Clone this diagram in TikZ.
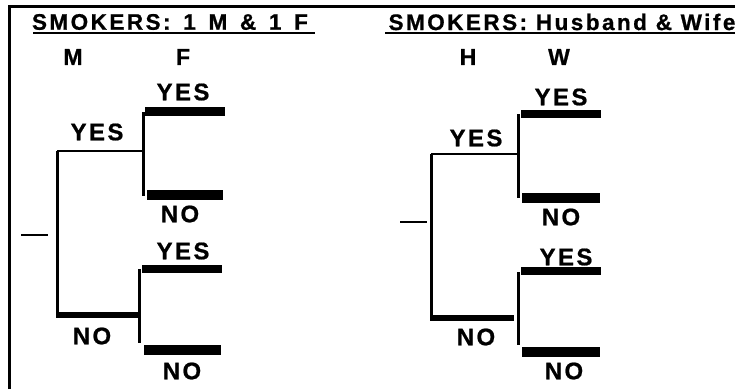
\documentclass[tikz,border=0pt]{standalone}
\usepackage{fontspec}
\newfontfamily\labfont[LetterSpace=10,FakeBold=0.8]{Liberation Sans Bold}
\newfontfamily\ttlfont[LetterSpace=11,FakeBold=0.8]{Liberation Sans Bold}
\newcommand\labsize{\fontsize{24pt}{24pt}\selectfont}
\newcommand\hdrsize{\fontsize{23pt}{23pt}\selectfont}
\newcommand\ttlsize{\fontsize{22.5pt}{22.5pt}\selectfont}
\newcommand\wsp{\hspace{4pt} }
\tikzset{
  lab/.style={font=\labfont\labsize, inner sep=0pt},
  hdr/.style={font=\labfont\hdrsize, inner sep=0pt},
  ttl/.style={font=\ttlfont\ttlsize, inner sep=0pt},
  thin/.style={line width=2.5pt},
  stem/.style={line width=3pt},
  nobranch/.style={line width=5.5pt},
  topbar/.style={line width=8.5pt},
  botbar/.style={line width=10.5pt},
  dash line/.style={line width=1.2pt},
  frame/.style={line width=3pt},
  uline/.style={line width=1.6pt}
}
\begin{document}
\begin{tikzpicture}[x=1pt,y=-1pt]
\useasboundingbox (0,0) rectangle (738,389);
% frame
\coordinate (fbl) at (9,389);
\coordinate (ftl) at (9,6);
\coordinate (ftr) at (735,6);
\draw[frame] (fbl) -- (ftl) -- (ftr);

% ===== left tree =====
\node[ttl] (t1) at (170,22) {SMOKERS:\wsp 1\wsp M\wsp \&\wsp 1\wsp F};
\coordinate (u1a) at (33,33); \coordinate (u1b) at (315,33);
\draw[uline] (u1a) -- (u1b);
\node[hdr] (hm) at (73,57) {M};
\node[hdr] (hf) at (183,57) {F};

\coordinate (m0) at (57,151);
\coordinate (m1) at (57,318);
\coordinate (my) at (143,151);
\coordinate (mn) at (138,315);
\coordinate (mn0) at (57,315);
\draw[stem] (m0) -- (m1);
\draw[thin] (m0) -- (my);
\draw[nobranch] (mn0) -- (mn);

\coordinate (fy0) at (143,112); \coordinate (fy1) at (143,196);
\draw[stem] (fy0) -- (fy1);
\coordinate (b1a) at (145,111.5); \coordinate (b1b) at (225,111.5);
\draw[topbar] (b1a) -- (b1b);
\coordinate (b2a) at (147,195); \coordinate (b2b) at (223,195);
\draw[botbar] (b2a) -- (b2b);

\coordinate (fn0) at (139,269); \coordinate (fn1) at (139,343);
\draw[stem] (fn0) -- (fn1);
\coordinate (b3a) at (142,269); \coordinate (b3b) at (222,269);
\draw[topbar] (b3a) -- (b3b);
\coordinate (b4a) at (144,350); \coordinate (b4b) at (221,350);
\draw[botbar] (b4a) -- (b4b);

\coordinate (d1a) at (21,235); \coordinate (d1b) at (48,235);
\draw[dash line] (d1a) -- (d1b);

\node[lab] (l1) at (183,92) {YES};
\node[lab] (l2) at (97,132) {YES};
\node[lab] (l3) at (180,214) {NO};
\node[lab] (l4) at (183,251) {YES};
\node[lab] (l5) at (92,336) {NO};
\node[lab] (l6) at (182,371) {NO};

% ===== right tree =====
\node[ttl] (t2) at (562,22) {SMOKERS: Husband \& Wife};
\coordinate (u2a) at (385,33); \coordinate (u2b) at (735,33);
\draw[uline] (u2a) -- (u2b);
\node[hdr] (hh) at (468,57) {H};
\node[hdr] (hw) at (559,57) {W};

\coordinate (h0) at (431,154);
\coordinate (h1) at (431,321);
\coordinate (hy) at (518,154);
\coordinate (hn0) at (433,318);
\coordinate (hn) at (514,318);
\draw[stem] (h0) -- (h1);
\draw[thin] (h0) -- (hy);
\draw[nobranch] (hn0) -- (hn);

\coordinate (wy0) at (518,114); \coordinate (wy1) at (518,198);
\draw[stem] (wy0) -- (wy1);
\coordinate (c1a) at (521,114); \coordinate (c1b) at (601,114);
\draw[topbar] (c1a) -- (c1b);
\coordinate (c2a) at (522,198); \coordinate (c2b) at (600,198);
\draw[botbar] (c2a) -- (c2b);

\coordinate (wn0) at (518,272); \coordinate (wn1) at (518,345);
\draw[stem] (wn0) -- (wn1);
\coordinate (c3a) at (521,271); \coordinate (c3b) at (601,271);
\draw[topbar] (c3a) -- (c3b);
\coordinate (c4a) at (522,352); \coordinate (c4b) at (600,352);
\draw[botbar] (c4a) -- (c4b);

\coordinate (d2a) at (400,222); \coordinate (d2b) at (427,222);
\draw[dash line] (d2a) -- (d2b);

\node[lab] (r1) at (561,97) {YES};
\node[lab] (r2) at (476,138) {YES};
\node[lab] (r3) at (561,217) {NO};
\node[lab] (r4) at (566,257) {YES};
\node[lab] (r5) at (476,337) {NO};
\node[lab] (r6) at (564,371) {NO};
\end{tikzpicture}
\end{document}
